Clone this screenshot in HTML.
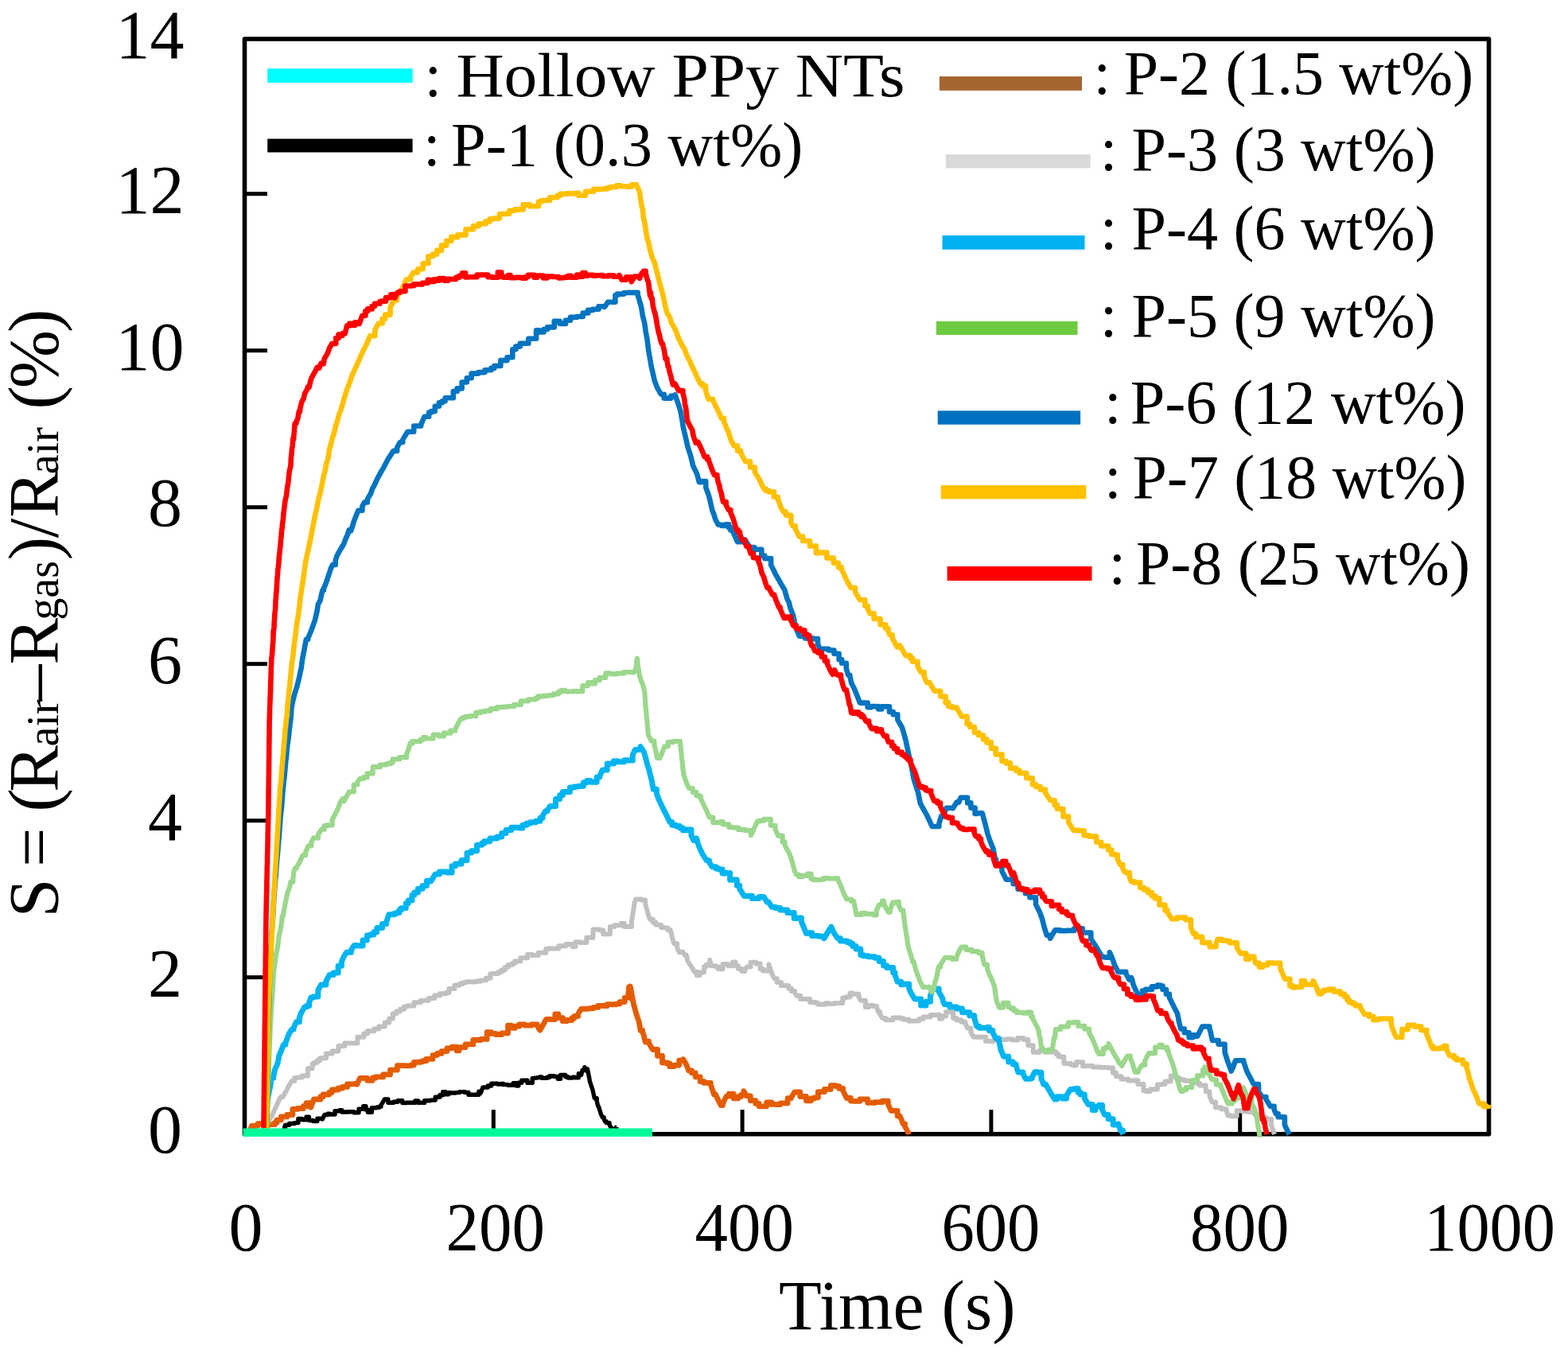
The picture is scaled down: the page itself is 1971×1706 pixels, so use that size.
<!DOCTYPE html><html><head><meta charset="utf-8"><title>Gas response</title><style>html,body{margin:0;padding:0;background:#fff;}body{width:1971px;height:1706px;overflow:hidden;}svg{display:block;filter:blur(0.55px);}text{font-family:"Liberation Serif", "Times New Roman", serif;fill:#000;}</style></head><body>
<svg width="1971" height="1706" viewBox="0 0 1971 1706">
<rect x="0" y="0" width="1971" height="1706" fill="#fff"/>
<rect x="307.5" y="49.0" width="1564.0" height="1376.7" fill="none" stroke="#000" stroke-width="5.6" stroke-linejoin="round"/>
<line x1="307.5" y1="1228.7" x2="336.0" y2="1228.7" stroke="#000" stroke-width="5"/>
<line x1="307.5" y1="1031.7" x2="336.0" y2="1031.7" stroke="#000" stroke-width="5"/>
<line x1="307.5" y1="834.7" x2="336.0" y2="834.7" stroke="#000" stroke-width="5"/>
<line x1="307.5" y1="637.7" x2="336.0" y2="637.7" stroke="#000" stroke-width="5"/>
<line x1="307.5" y1="440.7" x2="336.0" y2="440.7" stroke="#000" stroke-width="5"/>
<line x1="307.5" y1="243.7" x2="336.0" y2="243.7" stroke="#000" stroke-width="5"/>
<line x1="620.3" y1="1425.7" x2="620.3" y2="1395.2" stroke="#000" stroke-width="5"/>
<line x1="933.1" y1="1425.7" x2="933.1" y2="1395.2" stroke="#000" stroke-width="5"/>
<line x1="1245.9" y1="1425.7" x2="1245.9" y2="1395.2" stroke="#000" stroke-width="5"/>
<line x1="1558.7" y1="1425.7" x2="1558.7" y2="1395.2" stroke="#000" stroke-width="5"/>
<polyline points="355.0,1418.0 358.5,1418.0 358.5,1414.4 363.5,1414.4 363.5,1412.5 370.3,1412.5 370.3,1411.6 374.9,1411.6 374.9,1406.4 379.7,1406.4 379.7,1407.7 385.0,1407.7 385.0,1404.3 388.4,1404.3 388.4,1408.5 393.4,1408.5 393.4,1409.6 398.9,1409.6 398.9,1406.3 405.3,1406.3 405.3,1407.0 408.0,1401.5 411.9,1401.5 411.9,1400.3 414.6,1400.3 414.6,1401.0 421.0,1401.0 421.0,1396.8 427.1,1396.8 427.1,1395.7 429.7,1395.7 429.7,1398.0 437.4,1398.0 437.4,1397.8 445.0,1397.8 445.0,1398.8 451.0,1398.8 451.0,1394.2 456.7,1394.2 456.7,1390.7 459.9,1390.7 459.9,1395.0 462.4,1395.0 462.4,1398.2 467.4,1398.2 467.4,1392.7 469.9,1392.7 469.9,1392.7 473.1,1392.7 473.1,1392.3 476.5,1392.3 476.5,1391.3 478.9,1391.3 478.9,1389.7 483.5,1381.9 487.9,1381.9 487.9,1386.3 494.9,1386.3 494.9,1385.2 500.1,1385.2 500.1,1383.7 505.9,1383.7 505.9,1386.6 511.0,1386.6 511.0,1386.3 517.0,1386.3 517.0,1386.3 521.9,1386.3 521.9,1383.9 525.8,1383.9 525.8,1386.4 533.5,1386.4 533.5,1383.7 540.8,1383.7 540.8,1383.1 547.2,1383.1 547.2,1379.3 552.9,1379.3 552.9,1376.7 556.7,1376.7 556.7,1372.7 560.1,1372.7 560.1,1375.7 563.8,1375.7 563.8,1373.6 566.6,1373.6 566.6,1374.0 573.0,1374.0 573.0,1373.6 577.5,1373.6 577.5,1372.6 584.4,1372.6 584.4,1373.4 588.9,1373.4 588.9,1376.3 595.9,1376.3 595.9,1376.3 601.9,1376.3 601.9,1372.3 604.0,1372.3 604.0,1374.6 607.0,1367.0 613.3,1367.0 613.3,1365.0 617.7,1365.0 617.7,1362.2 625.4,1362.2 625.4,1363.0 629.9,1363.0 629.9,1362.5 632.7,1362.5 632.7,1363.6 638.5,1363.6 638.5,1364.2 645.1,1364.2 645.1,1361.6 649.0,1361.6 649.0,1365.0 651.8,1365.0 651.8,1361.2 655.8,1361.2 655.8,1358.2 663.0,1358.2 663.0,1361.4 669.2,1361.4 669.2,1355.6 672.1,1355.6 672.1,1355.1 675.6,1355.1 675.6,1354.6 678.4,1354.6 678.4,1354.0 681.0,1354.0 681.0,1355.4 687.7,1355.4 687.7,1354.3 691.0,1354.3 691.0,1352.7 696.4,1352.7 696.4,1353.4 701.2,1353.4 701.2,1356.2 704.6,1356.2 704.6,1351.4 710.8,1351.4 710.8,1353.8 713.9,1353.8 713.9,1355.1 719.7,1355.1 719.7,1354.2 722.7,1354.2 722.7,1354.7 727.3,1354.7 727.3,1349.8 730.6,1349.8 730.6,1351.6 732.1,1345.3 734.9,1345.3 734.9,1341.8 737.1,1346.2 738.4,1343.9 740.6,1354.7 741.6,1360.2 742.9,1364.1 744.9,1369.8 746.6,1377.8 747.5,1380.8 750.2,1380.8 750.2,1384.2 751.5,1389.9 752.8,1392.2 755.4,1400.6 757.3,1404.7 759.1,1404.7 759.1,1406.8 760.4,1409.7 762.1,1409.7 762.1,1411.6 766.0,1411.6 766.0,1413.5 768.8,1419.2 774.5,1419.2 774.5,1417.1 775.0,1417.1 775.0,1416.9" fill="none" stroke="#000000" stroke-width="5.4" stroke-linejoin="round" stroke-linecap="butt" />
<polyline points="312.0,1420.0 316.5,1420.0 316.5,1415.3 324.1,1415.3 324.1,1412.7 332.1,1412.7 332.1,1415.5 336.3,1415.5 336.3,1413.3 339.6,1413.3 339.6,1413.7 345.3,1413.7 345.3,1411.6 347.8,1411.6 347.8,1408.1 353.3,1408.1 353.3,1403.9 360.8,1403.9 360.8,1401.5 367.8,1401.5 367.8,1394.3 374.4,1394.3 374.4,1393.5 381.4,1393.5 381.4,1390.7 385.1,1390.7 385.1,1386.6 390.7,1386.6 390.7,1392.2 394.5,1382.0 402.9,1382.0 402.9,1378.7 406.1,1378.7 406.1,1376.0 413.9,1376.0 413.9,1373.3 417.4,1373.3 417.4,1370.0 425.3,1370.0 425.3,1368.0 430.7,1368.0 430.7,1366.4 436.6,1366.4 436.6,1362.9 445.6,1362.9 445.6,1362.3 448.8,1362.3 448.8,1363.3 452.4,1355.4 461.7,1355.4 461.7,1358.3 468.2,1358.3 468.2,1355.2 471.9,1355.2 471.9,1353.9 481.7,1353.9 481.7,1350.9 490.5,1350.9 490.5,1345.1 494.0,1345.1 494.0,1345.1 499.4,1345.1 499.4,1339.6 503.4,1339.6 503.4,1339.7 508.7,1339.7 508.7,1339.8 516.1,1339.8 516.1,1339.1 520.4,1339.1 520.4,1335.4 528.3,1335.4 528.3,1334.8 531.8,1334.8 531.8,1333.7 535.9,1333.7 535.9,1331.4 544.0,1331.4 544.0,1326.6 549.5,1326.6 549.5,1324.4 555.0,1324.4 555.0,1321.7 561.9,1321.7 561.9,1317.8 568.2,1317.8 568.2,1316.1 573.9,1316.1 573.9,1320.8 577.1,1320.8 577.1,1316.6 585.1,1316.6 585.1,1312.9 594.8,1312.9 594.8,1307.5 604.5,1307.5 604.5,1306.4 612.1,1306.4 612.1,1297.7 617.5,1297.7 617.5,1299.4 623.0,1299.4 623.0,1300.5 630.8,1300.5 630.8,1298.9 638.5,1298.9 638.5,1289.2 642.4,1289.2 642.4,1292.4 647.1,1292.4 647.1,1290.2 652.7,1290.2 652.7,1287.8 659.5,1287.8 659.5,1289.1 668.5,1289.1 668.5,1287.9 675.3,1287.9 675.3,1289.9 678.7,1295.2 686.6,1281.4 692.0,1281.4 692.0,1281.6 697.8,1281.6 697.8,1274.8 701.9,1274.8 701.9,1279.7 707.3,1279.7 707.3,1283.7 712.4,1283.7 712.4,1282.5 718.9,1282.5 718.9,1280.0 721.7,1280.0 721.7,1277.6 726.7,1277.6 726.7,1274.5 730.5,1268.4 738.2,1268.4 738.2,1268.1 741.4,1268.1 741.4,1267.6 746.3,1267.6 746.3,1266.4 751.9,1266.4 751.9,1264.4 759.6,1264.4 759.6,1264.7 763.2,1264.7 763.2,1262.6 769.7,1262.6 769.7,1262.9 774.1,1262.9 774.1,1262.1 779.0,1262.1 779.0,1259.6 785.2,1259.6 785.2,1254.4 789.8,1254.4 789.8,1250.1 790.6,1240.9 792.1,1240.9 792.1,1239.9 792.9,1243.3 794.6,1252.2 795.7,1259.0 796.8,1263.3 799.5,1273.6 802.7,1283.1 803.6,1286.5 805.1,1295.4 807.6,1295.4 807.6,1297.4 809.2,1301.6 811.2,1310.0 813.2,1310.0 813.2,1309.2 815.5,1309.2 815.5,1311.1 820.4,1319.5 826.5,1319.5 826.5,1327.4 832.5,1327.4 832.5,1336.0 838.5,1336.0 838.5,1337.0 841.8,1337.0 841.8,1340.7 847.3,1340.7 847.3,1339.1 853.7,1339.1 853.7,1333.1 858.9,1333.1 858.9,1331.7 863.1,1339.1 865.6,1345.9 869.5,1345.9 869.5,1348.8 874.2,1348.8 874.2,1353.8 880.2,1353.8 880.2,1359.7 885.0,1359.7 885.0,1361.4 893.3,1361.4 893.3,1363.9 897.6,1376.0 899.6,1376.0 899.6,1376.0 901.9,1381.3 906.2,1389.6 908.5,1389.6 908.5,1387.4 913.0,1378.2 916.3,1378.2 916.3,1375.1 922.1,1375.1 922.1,1380.8 927.9,1380.8 927.9,1378.7 931.3,1378.7 931.3,1376.6 934.9,1376.6 934.9,1371.6 938.2,1377.8 943.3,1377.8 943.3,1383.7 949.9,1383.7 949.9,1387.4 954.1,1387.4 954.1,1390.8 963.6,1390.8 963.6,1385.9 969.9,1385.9 969.9,1388.4 974.8,1388.4 974.8,1388.6 981.1,1388.6 981.1,1386.9 990.1,1386.9 990.1,1380.7 994.3,1380.7 994.3,1380.3 998.7,1373.0 1005.8,1373.0 1005.8,1378.5 1013.4,1378.5 1013.4,1383.8 1019.5,1383.8 1019.5,1380.9 1023.6,1380.9 1023.6,1379.8 1028.4,1379.8 1028.4,1372.7 1036.3,1372.7 1036.3,1369.4 1044.2,1369.4 1044.2,1364.6 1050.3,1364.6 1050.3,1365.6 1054.9,1365.6 1054.9,1368.4 1059.7,1368.4 1059.7,1371.5 1064.2,1380.5 1069.4,1380.5 1069.4,1384.1 1072.7,1384.1 1072.7,1384.3 1081.0,1384.3 1081.0,1381.9 1090.7,1381.9 1090.7,1386.4 1099.7,1386.4 1099.7,1385.6 1109.3,1385.6 1109.3,1384.2 1116.3,1384.2 1116.3,1388.3 1120.2,1396.4 1128.1,1396.4 1128.1,1402.9 1130.8,1402.9 1130.8,1403.0 1132.5,1406.1 1135.1,1412.9 1137.5,1412.9 1137.5,1416.0 1142.0,1424.7 1142.2,1426.2" fill="none" stroke="#E45C00" stroke-width="6.8" stroke-linejoin="round" stroke-linecap="butt" />
<polyline points="334.0,1420.0 335.6,1414.5 338.6,1407.6 342.2,1401.6 346.4,1392.9 348.6,1387.8 351.0,1382.2 353.2,1378.9 355.6,1378.9 355.6,1378.7 360.4,1370.5 362.8,1365.6 366.8,1359.0 370.2,1359.0 370.2,1354.9 374.5,1354.9 374.5,1354.4 379.5,1354.4 379.5,1352.6 386.9,1352.6 386.9,1343.2 392.6,1343.2 392.6,1337.4 395.1,1337.4 395.1,1335.7 399.0,1335.7 399.0,1333.0 402.2,1333.0 402.2,1330.2 409.9,1330.2 409.9,1324.5 417.7,1324.5 417.7,1321.6 425.4,1321.6 425.4,1315.0 433.2,1315.0 433.2,1311.5 440.5,1311.5 440.5,1311.6 449.4,1311.6 449.4,1303.7 457.4,1303.7 457.4,1299.5 461.9,1299.5 461.9,1296.3 470.3,1296.3 470.3,1293.5 476.3,1293.5 476.3,1290.6 483.8,1290.6 483.8,1285.4 489.2,1285.4 489.2,1280.6 493.9,1280.6 493.9,1274.3 498.3,1274.3 498.3,1271.6 503.0,1271.6 503.0,1268.7 507.9,1268.7 507.9,1265.4 511.8,1265.4 511.8,1264.6 520.5,1264.6 520.5,1260.2 529.0,1260.2 529.0,1257.8 538.7,1257.8 538.7,1255.0 546.3,1255.0 546.3,1251.6 553.0,1251.6 553.0,1249.2 560.8,1249.2 560.8,1248.1 564.4,1248.1 564.4,1242.9 571.4,1242.9 571.4,1238.8 577.3,1238.8 577.3,1237.0 581.6,1237.0 581.6,1235.2 586.2,1235.2 586.2,1234.3 593.0,1234.3 593.0,1234.6 597.9,1234.6 597.9,1233.8 604.2,1233.8 604.2,1232.5 611.0,1232.5 611.0,1229.8 616.4,1229.8 616.4,1224.2 620.1,1224.2 620.1,1224.0 626.2,1224.0 626.2,1222.0 630.5,1222.0 630.5,1219.4 634.7,1219.4 634.7,1215.9 638.7,1215.9 638.7,1213.1 643.8,1213.1 643.8,1211.2 647.1,1211.2 647.1,1208.5 654.2,1208.5 654.2,1204.3 663.2,1204.3 663.2,1200.1 668.8,1200.1 668.8,1201.0 676.8,1201.0 676.8,1197.8 686.2,1197.8 686.2,1192.9 689.6,1192.9 689.6,1192.5 693.7,1192.5 693.7,1192.4 702.4,1192.4 702.4,1189.3 711.5,1189.3 711.5,1186.9 719.2,1186.9 719.2,1189.9 723.5,1189.9 723.5,1184.2 729.3,1184.2 729.3,1185.1 737.3,1185.1 737.3,1178.8 745.5,1178.8 745.5,1168.6 753.7,1168.6 753.7,1169.5 758.1,1169.5 758.1,1174.3 766.9,1174.3 766.9,1165.1 772.6,1165.1 772.6,1163.2 780.7,1163.2 780.7,1161.0 784.8,1161.0 784.8,1164.9 793.9,1164.9 793.9,1159.1 795.2,1150.8 796.6,1142.8 797.3,1136.0 799.1,1130.4 806.4,1130.4 806.4,1131.6 811.2,1131.6 811.2,1136.2 812.9,1142.5 815.3,1151.2 816.9,1155.8 820.8,1155.8 820.8,1159.8 824.4,1159.8 824.4,1162.8 831.2,1162.8 831.2,1166.1 834.9,1166.1 834.9,1166.5 839.4,1166.5 839.4,1169.2 842.8,1169.2 842.8,1169.0 845.1,1178.9 847.1,1186.2 851.2,1186.2 851.2,1191.5 853.6,1197.2 858.1,1197.2 858.1,1196.5 861.1,1201.1 862.9,1201.1 862.9,1200.7 864.4,1208.4 870.4,1217.4 872.8,1221.7 875.9,1221.7 875.9,1226.2 879.5,1226.2 879.5,1222.6 884.9,1222.6 884.9,1215.4 887.5,1215.4 887.5,1213.0 892.2,1213.0 892.2,1206.7 893.7,1214.2 899.8,1214.2 899.8,1215.6 903.0,1215.6 903.0,1218.2 908.6,1218.2 908.6,1211.9 915.3,1211.9 915.3,1214.2 921.1,1214.2 921.1,1209.4 924.5,1209.4 924.5,1214.1 927.8,1214.1 927.8,1218.0 932.6,1218.0 932.6,1221.0 936.4,1221.0 936.4,1219.7 938.8,1215.5 943.6,1215.5 943.6,1209.8 950.1,1209.8 950.1,1211.5 955.6,1211.5 955.6,1217.9 959.1,1217.9 959.1,1220.5 966.4,1220.5 966.4,1212.5 971.0,1225.8 973.3,1230.2 976.7,1230.2 976.7,1234.9 981.9,1234.9 981.9,1239.0 986.4,1239.0 986.4,1239.2 991.3,1239.2 991.3,1242.7 995.0,1242.7 995.0,1246.1 999.0,1246.1 999.0,1247.8 1001.5,1251.8 1006.1,1251.8 1006.1,1255.9 1009.8,1255.9 1009.8,1255.9 1018.1,1255.9 1018.1,1260.0 1025.3,1260.0 1025.3,1261.0 1028.4,1261.0 1028.4,1262.7 1037.2,1262.7 1037.2,1261.3 1041.7,1261.3 1041.7,1262.0 1048.4,1262.0 1048.4,1261.3 1054.8,1261.3 1054.8,1260.9 1059.3,1260.9 1059.3,1254.6 1063.5,1254.6 1063.5,1253.5 1068.6,1253.5 1068.6,1248.5 1071.9,1248.5 1071.9,1249.8 1079.4,1249.8 1079.4,1253.5 1081.9,1257.7 1087.8,1257.7 1087.8,1265.9 1092.5,1265.9 1092.5,1264.0 1097.9,1264.0 1097.9,1265.1 1102.1,1265.1 1102.1,1266.7 1103.9,1272.1 1106.1,1272.1 1106.1,1275.0 1109.2,1279.9 1113.2,1279.9 1113.2,1282.2 1122.4,1282.2 1122.4,1279.6 1132.4,1279.6 1132.4,1280.5 1135.8,1280.5 1135.8,1281.8 1142.6,1281.8 1142.6,1283.7 1146.6,1283.7 1146.6,1283.4 1155.2,1283.4 1155.2,1281.0 1160.5,1281.0 1160.5,1278.4 1169.7,1278.4 1169.7,1276.1 1176.8,1276.1 1176.8,1275.7 1180.9,1275.7 1180.9,1280.8 1184.1,1280.8 1184.1,1277.4 1189.1,1277.4 1189.1,1272.3 1198.2,1272.3 1198.2,1280.1 1202.2,1280.1 1202.2,1282.2 1208.4,1282.2 1208.4,1284.7 1213.3,1284.7 1213.3,1286.2 1216.1,1292.4 1220.5,1292.4 1220.5,1298.0 1223.8,1303.7 1231.6,1303.7 1231.6,1303.8 1239.1,1303.8 1239.1,1309.1 1248.9,1309.1 1248.9,1307.7 1255.8,1307.7 1255.8,1307.0 1265.6,1307.0 1265.6,1306.3 1272.0,1306.3 1272.0,1307.5 1279.3,1307.5 1279.3,1305.0 1286.4,1305.0 1286.4,1306.9 1292.4,1306.9 1292.4,1314.3 1298.7,1314.3 1298.7,1322.7 1302.4,1322.7 1302.4,1322.9 1306.5,1322.9 1306.5,1320.7 1313.6,1320.7 1313.6,1322.7 1322.6,1322.7 1322.6,1322.5 1327.6,1322.5 1327.6,1325.3 1330.6,1325.3 1330.6,1328.6 1337.3,1328.6 1337.3,1337.1 1342.3,1337.1 1342.3,1337.0 1345.8,1337.0 1345.8,1338.6 1349.4,1338.6 1349.4,1339.6 1352.8,1339.6 1352.8,1335.3 1361.1,1335.3 1361.1,1340.4 1365.1,1340.4 1365.1,1339.9 1373.4,1339.9 1373.4,1341.4 1382.9,1341.4 1382.9,1341.9 1393.2,1341.9 1393.2,1342.6 1399.0,1342.6 1399.0,1348.8 1403.0,1348.8 1403.0,1353.3 1409.5,1353.3 1409.5,1356.8 1418.4,1356.8 1418.4,1358.6 1426.0,1358.6 1426.0,1358.3 1430.3,1358.3 1430.3,1362.9 1437.4,1362.9 1437.4,1370.9 1440.7,1370.9 1440.7,1372.2 1445.6,1372.2 1445.6,1369.6 1454.9,1369.6 1454.9,1363.5 1460.5,1363.5 1460.5,1363.0 1464.5,1363.0 1464.5,1359.5 1471.7,1359.5 1471.7,1352.5 1477.8,1352.5 1477.8,1354.4 1480.9,1354.4 1480.9,1356.2 1484.2,1356.2 1484.2,1357.6 1489.2,1357.6 1489.2,1358.8 1494.7,1358.8 1494.7,1359.1 1503.9,1359.1 1503.9,1362.1 1508.0,1362.1 1508.0,1364.5 1515.6,1364.5 1515.6,1372.3 1520.4,1372.3 1520.4,1377.9 1523.4,1385.4 1528.0,1385.4 1528.0,1392.2 1535.1,1392.2 1535.1,1394.3 1541.4,1394.3 1541.4,1395.6 1543.6,1402.6 1547.2,1402.6 1547.2,1403.3 1554.7,1403.3 1554.7,1396.2 1560.9,1396.2 1560.9,1397.1 1565.3,1397.1 1565.3,1397.5 1571.0,1397.5 1571.0,1398.0 1577.1,1398.0 1577.1,1401.0 1581.2,1401.0 1581.2,1402.7 1588.0,1402.7 1588.0,1405.1 1591.3,1405.1 1591.3,1406.7 1598.0,1406.7 1598.0,1413.5 1599.2,1418.6 1600.3,1420.9 1601.9,1426.2" fill="none" stroke="#C0C0C0" stroke-width="6.0" stroke-linejoin="round" stroke-linecap="butt" />
<polyline points="333.0,1420.0 333.7,1415.3 334.5,1408.4 335.0,1401.4 335.7,1391.7 336.1,1383.5 336.7,1380.6 338.3,1372.1 339.9,1365.7 341.0,1355.3 343.7,1355.3 343.7,1352.9 345.7,1344.1 348.4,1338.2 349.6,1334.2 350.9,1327.0 353.7,1320.5 356.4,1313.3 358.8,1313.3 358.8,1311.4 363.2,1299.8 366.9,1293.9 369.0,1293.9 369.0,1292.3 372.4,1284.8 376.3,1284.8 376.3,1279.5 378.4,1273.7 382.8,1265.9 385.2,1265.9 385.2,1264.6 388.6,1264.6 388.6,1260.5 390.9,1253.9 393.7,1253.9 393.7,1253.0 399.8,1253.0 399.8,1245.0 403.5,1238.1 409.9,1238.1 409.9,1233.6 414.1,1225.4 419.1,1225.4 419.1,1223.0 425.1,1223.0 425.1,1214.2 429.4,1214.2 429.4,1208.8 431.6,1203.8 435.5,1197.3 441.5,1197.3 441.5,1194.1 445.2,1188.4 448.4,1188.4 448.4,1189.1 456.0,1189.1 456.0,1181.9 461.3,1181.9 461.3,1176.0 464.9,1176.0 464.9,1174.9 469.9,1174.9 469.9,1171.7 473.7,1171.7 473.7,1166.5 480.5,1166.5 480.5,1161.4 485.7,1161.4 485.7,1159.3 488.7,1149.7 495.4,1149.7 495.4,1148.5 498.1,1148.5 498.1,1147.4 501.8,1147.4 501.8,1144.2 504.2,1144.2 504.2,1141.8 510.2,1141.8 510.2,1135.8 513.1,1135.8 513.1,1131.9 518.0,1131.9 518.0,1125.2 520.7,1125.2 520.7,1122.1 525.4,1122.1 525.4,1117.2 531.2,1117.2 531.2,1113.5 536.4,1113.5 536.4,1107.2 541.7,1107.2 541.7,1108.0 547.2,1098.9 552.4,1098.9 552.4,1096.1 558.6,1096.1 558.6,1095.9 562.1,1095.9 562.1,1096.9 568.0,1096.9 568.0,1088.8 572.4,1088.8 572.4,1086.0 580.0,1086.0 580.0,1081.6 587.0,1081.6 587.0,1072.2 589.6,1072.2 589.6,1071.9 592.6,1071.9 592.6,1069.8 599.5,1069.8 599.5,1062.3 605.7,1062.3 605.7,1060.2 608.5,1060.2 608.5,1057.8 615.8,1057.8 615.8,1053.9 625.0,1053.9 625.0,1051.9 630.7,1051.9 630.7,1047.6 636.0,1047.6 636.0,1043.5 642.8,1043.5 642.8,1040.3 652.1,1040.3 652.1,1041.1 656.9,1041.1 656.9,1037.3 662.0,1037.3 662.0,1035.2 666.3,1035.2 666.3,1033.7 673.5,1033.7 673.5,1032.3 679.0,1032.3 679.0,1028.2 682.1,1028.2 682.1,1025.3 685.9,1019.5 688.1,1019.5 688.1,1018.7 691.5,1013.5 698.5,1013.5 698.5,1004.6 703.6,1004.6 703.6,999.7 707.3,999.7 707.3,995.6 716.4,995.6 716.4,990.1 721.7,990.1 721.7,988.9 726.3,988.9 726.3,988.6 729.4,988.6 729.4,988.2 733.4,988.2 733.4,983.8 737.8,983.8 737.8,981.5 742.3,981.5 742.3,983.2 750.1,983.2 750.1,976.9 753.7,976.9 753.7,976.1 757.3,967.9 763.3,967.9 763.3,959.9 771.5,959.9 771.5,956.8 776.3,956.8 776.3,957.7 784.6,957.7 784.6,955.8 790.1,955.8 790.1,955.9 795.3,955.9 795.3,949.0 798.6,942.4 805.1,942.4 805.1,938.5 809.4,945.4 811.4,952.0 814.0,962.5 815.5,966.5 817.0,972.6 819.4,982.2 821.2,992.2 825.4,992.2 825.4,997.7 828.1,1005.0 832.2,1013.9 835.5,1020.4 837.6,1024.5 841.9,1033.5 844.8,1033.5 844.8,1037.3 849.6,1037.3 849.6,1038.6 854.5,1038.6 854.5,1041.0 858.4,1041.0 858.4,1043.8 862.9,1043.8 862.9,1043.1 869.0,1043.1 869.0,1050.7 872.0,1056.6 875.5,1056.6 875.5,1053.7 878.0,1062.6 880.5,1068.3 882.6,1073.0 888.1,1081.7 891.4,1081.7 891.4,1083.7 895.2,1089.8 900.1,1089.8 900.1,1091.9 903.8,1091.9 903.8,1092.9 908.1,1092.9 908.1,1098.1 911.7,1098.1 911.7,1097.5 917.6,1097.5 917.6,1106.3 920.6,1106.3 920.6,1105.9 926.3,1105.9 926.3,1113.3 929.7,1113.3 929.7,1117.4 935.3,1126.4 940.9,1126.4 940.9,1126.3 945.3,1126.3 945.3,1129.6 954.1,1129.6 954.1,1127.5 960.1,1127.5 960.1,1127.4 964.2,1134.2 966.3,1134.2 966.3,1134.0 970.0,1140.2 974.7,1140.2 974.7,1141.5 980.8,1141.5 980.8,1144.1 989.8,1144.1 989.8,1147.6 998.2,1147.6 998.2,1154.6 1001.5,1154.6 1001.5,1154.0 1007.4,1154.0 1007.4,1158.5 1013.4,1173.5 1017.6,1173.5 1017.6,1172.8 1020.6,1172.8 1020.6,1176.6 1029.8,1176.6 1029.8,1177.2 1035.9,1177.2 1035.9,1179.7 1041.0,1171.1 1044.7,1165.1 1048.3,1172.8 1052.8,1179.6 1056.3,1179.6 1056.3,1182.9 1064.8,1182.9 1064.8,1184.6 1068.8,1184.6 1068.8,1186.3 1071.8,1186.3 1071.8,1189.5 1076.0,1189.5 1076.0,1193.1 1081.8,1193.1 1081.8,1200.5 1085.0,1200.5 1085.0,1201.7 1091.2,1201.7 1091.2,1202.7 1099.8,1202.7 1099.8,1204.3 1105.1,1204.3 1105.1,1208.6 1110.6,1208.6 1110.6,1213.9 1114.8,1213.9 1114.8,1216.6 1122.7,1216.6 1122.7,1222.7 1125.0,1222.7 1125.0,1225.7 1128.2,1234.2 1132.7,1234.2 1132.7,1237.8 1135.9,1237.8 1135.9,1236.9 1142.7,1236.9 1142.7,1242.9 1144.9,1247.7 1149.8,1255.9 1157.6,1255.9 1157.6,1264.1 1163.9,1264.1 1163.9,1259.3 1169.4,1259.3 1169.4,1252.0 1172.5,1243.6 1176.1,1243.6 1176.1,1242.9 1180.2,1242.9 1180.2,1246.9 1184.6,1254.7 1185.8,1259.8 1187.3,1262.7 1193.9,1262.7 1193.9,1266.1 1202.8,1266.1 1202.8,1268.0 1209.5,1268.0 1209.5,1272.7 1218.8,1272.7 1218.8,1276.8 1224.7,1276.8 1224.7,1279.2 1227.6,1290.2 1231.1,1290.2 1231.1,1292.3 1240.7,1292.3 1240.7,1291.6 1243.4,1291.6 1243.4,1295.4 1247.9,1295.4 1247.9,1298.1 1251.8,1305.4 1255.6,1305.4 1255.6,1307.8 1258.2,1320.2 1261.5,1328.2 1267.7,1328.2 1267.7,1334.9 1273.3,1334.9 1273.3,1338.0 1277.0,1338.0 1277.0,1339.3 1279.8,1348.0 1285.8,1348.0 1285.8,1349.7 1289.3,1356.3 1292.5,1356.3 1292.5,1356.3 1295.7,1356.3 1295.7,1355.5 1297.3,1355.5 1297.3,1354.7 1299.2,1350.4 1301.1,1347.5 1303.7,1347.5 1303.7,1348.3 1308.9,1348.3 1308.9,1355.9 1311.8,1363.2 1314.2,1363.2 1314.2,1362.8 1320.3,1373.2 1325.6,1382.0 1328.5,1382.0 1328.5,1378.8 1335.2,1378.8 1335.2,1381.0 1340.5,1381.0 1340.5,1377.3 1345.6,1369.5 1351.2,1369.5 1351.2,1368.5 1355.2,1368.5 1355.2,1373.2 1358.2,1373.2 1358.2,1376.0 1363.3,1376.0 1363.3,1380.9 1367.9,1388.5 1373.2,1388.5 1373.2,1395.6 1376.8,1395.6 1376.8,1391.2 1381.4,1391.2 1381.4,1389.3 1385.5,1389.3 1385.5,1394.9 1388.4,1401.4 1393.2,1401.4 1393.2,1406.8 1399.2,1406.8 1399.2,1414.1 1405.9,1414.1 1405.9,1412.7 1408.4,1421.1 1411.5,1421.1 1411.5,1425.3 1411.8,1426.0" fill="none" stroke="#00B4F0" stroke-width="7.0" stroke-linejoin="round" stroke-linecap="butt" />
<polyline points="334.0,1420.0 334.6,1411.2 334.8,1408.1 335.3,1399.2 335.6,1393.0 336.2,1385.1 336.4,1380.0 336.7,1370.3 337.0,1363.0 337.4,1354.7 337.8,1343.7 338.0,1338.3 338.2,1333.7 338.5,1322.5 338.7,1317.6 338.9,1313.9 339.1,1307.5 339.5,1300.1 339.8,1290.5 340.4,1282.2 340.7,1277.6 341.3,1264.9 341.8,1258.3 342.1,1254.2 342.5,1249.0 342.9,1243.8 343.2,1238.6 343.6,1230.0 344.0,1225.0 344.5,1219.3 345.9,1209.3 347.1,1198.8 348.0,1195.8 349.4,1187.6 351.0,1173.7 352.1,1171.6 354.1,1159.0 354.7,1151.9 355.6,1151.9 355.6,1151.8 356.4,1148.2 358.4,1136.7 360.0,1128.8 362.0,1120.5 363.5,1117.2 365.5,1108.7 368.3,1108.7 368.3,1105.0 369.4,1095.4 370.8,1091.8 372.6,1091.8 372.6,1090.7 375.9,1085.3 380.6,1075.1 384.2,1075.1 384.2,1070.9 387.4,1063.5 391.4,1063.5 391.4,1058.6 394.0,1053.4 400.1,1053.4 400.1,1048.8 404.1,1042.7 407.6,1042.7 407.6,1038.1 411.4,1038.1 411.4,1037.3 417.7,1037.3 417.7,1030.3 420.3,1025.6 424.9,1016.5 427.6,1009.2 430.7,1004.0 432.5,1007.1 438.7,995.5 444.7,995.5 444.7,986.5 449.3,986.5 449.3,983.6 452.0,979.0 457.1,979.0 457.1,977.2 461.6,977.2 461.6,972.4 468.6,972.4 468.6,964.2 477.8,964.2 477.8,961.5 485.8,961.5 485.8,960.2 490.6,960.2 490.6,958.7 493.7,958.7 493.7,954.4 502.3,954.4 502.3,952.2 511.1,952.2 511.1,947.7 512.8,944.1 515.5,934.7 518.3,934.7 518.3,932.2 528.4,932.2 528.4,929.8 531.8,929.8 531.8,927.0 535.4,927.0 535.4,928.5 544.6,928.5 544.6,923.6 551.6,923.6 551.6,925.5 557.9,925.5 557.9,921.6 566.3,921.6 566.3,918.7 572.0,918.7 572.0,917.2 576.7,907.8 579.7,903.3 582.2,903.3 582.2,902.0 585.3,902.0 585.3,900.9 590.7,900.9 590.7,900.2 598.2,900.2 598.2,895.9 603.9,895.9 603.9,894.7 609.4,894.7 609.4,893.6 616.9,893.6 616.9,891.1 624.9,891.1 624.9,889.0 632.2,889.0 632.2,888.7 637.4,888.7 637.4,888.0 646.1,888.0 646.1,885.9 654.7,885.9 654.7,881.4 663.9,881.4 663.9,879.3 673.3,879.3 673.3,877.6 676.6,877.6 676.6,875.3 684.4,875.3 684.4,874.6 690.0,874.6 690.0,874.0 695.9,874.0 695.9,872.3 701.9,872.3 701.9,869.8 705.4,869.8 705.4,867.9 710.4,867.9 710.4,869.5 720.6,869.5 720.6,868.9 725.4,868.9 725.4,869.2 732.3,869.2 732.3,862.2 739.0,862.2 739.0,858.2 743.8,858.2 743.8,859.4 748.0,859.4 748.0,855.2 753.8,855.2 753.8,851.9 761.2,851.9 761.2,846.4 766.7,846.4 766.7,847.2 770.3,847.2 770.3,847.3 774.8,847.3 774.8,846.6 784.1,846.6 784.1,845.0 792.6,845.0 792.6,844.8 796.6,844.8 796.6,845.5 799.4,840.4 800.3,830.0 801.0,827.7 802.2,840.0 802.7,841.1 803.2,845.4 804.8,852.8 807.3,858.7 809.3,865.4 810.5,871.5 811.4,888.1 811.9,890.6 812.6,898.9 812.9,902.5 813.7,909.8 814.1,913.5 814.8,923.6 818.8,931.5 822.4,931.5 822.4,936.3 824.2,943.4 825.9,952.9 829.5,952.9 829.5,953.2 832.6,945.5 835.3,938.3 839.7,938.3 839.7,933.1 845.9,933.1 845.9,932.0 849.8,932.0 849.8,931.9 854.9,931.9 854.9,932.1 855.6,940.3 856.1,943.5 856.9,952.3 857.9,960.1 858.5,966.9 859.5,974.0 863.2,985.2 866.0,991.0 870.7,991.0 870.7,995.9 875.3,995.9 875.3,1000.2 878.6,1000.2 878.6,1001.0 880.9,1001.0 880.9,1004.0 885.6,1014.3 887.3,1017.2 891.7,1027.6 896.3,1027.6 896.3,1034.1 904.9,1034.1 904.9,1033.2 908.7,1033.2 908.7,1036.3 916.3,1036.3 916.3,1040.0 920.9,1040.0 920.9,1040.5 928.3,1040.5 928.3,1042.9 936.5,1042.9 936.5,1044.2 944.0,1044.2 944.0,1050.2 947.5,1042.5 952.2,1032.3 956.0,1032.3 956.0,1031.7 960.3,1031.7 960.3,1029.9 968.7,1029.9 968.7,1037.5 970.8,1037.5 970.8,1037.8 974.6,1037.8 974.6,1043.1 978.3,1050.8 983.6,1050.8 983.6,1058.4 986.5,1058.4 986.5,1062.6 990.0,1069.2 992.4,1073.6 994.6,1079.6 996.7,1086.8 998.8,1095.2 1001.2,1099.5 1004.0,1099.5 1004.0,1102.2 1008.4,1102.2 1008.4,1100.9 1014.9,1100.9 1014.9,1098.7 1019.5,1098.7 1019.5,1104.7 1022.3,1104.7 1022.3,1106.1 1032.2,1106.1 1032.2,1105.7 1035.5,1105.7 1035.5,1104.2 1041.1,1104.2 1041.1,1104.5 1050.6,1104.5 1050.6,1104.2 1053.1,1104.2 1053.1,1105.2 1056.4,1112.4 1060.7,1123.5 1064.3,1130.5 1070.1,1130.5 1070.1,1132.9 1072.9,1132.9 1072.9,1132.6 1074.7,1139.9 1076.5,1150.0 1082.7,1150.0 1082.7,1148.2 1088.7,1148.2 1088.7,1149.2 1097.7,1149.2 1097.7,1150.3 1101.7,1150.3 1101.7,1144.6 1105.2,1137.4 1109.1,1137.4 1109.1,1132.6 1110.7,1132.6 1110.7,1134.2 1114.2,1142.6 1116.4,1146.6 1118.8,1146.6 1118.8,1144.6 1122.3,1134.6 1125.8,1134.6 1125.8,1134.0 1129.9,1134.0 1129.9,1138.5 1132.7,1144.4 1135.3,1144.4 1135.3,1146.3 1136.5,1154.7 1137.6,1164.5 1138.7,1170.5 1139.9,1178.2 1141.1,1187.2 1142.0,1191.5 1144.9,1200.5 1147.2,1209.1 1148.7,1209.1 1148.7,1210.0 1151.8,1221.3 1154.8,1228.9 1156.1,1233.1 1160.3,1241.1 1168.3,1241.1 1168.3,1240.6 1171.1,1247.4 1173.7,1243.1 1175.9,1232.4 1176.9,1230.8 1178.7,1221.2 1179.9,1215.5 1182.3,1215.5 1182.3,1212.6 1187.8,1204.1 1196.6,1204.1 1196.6,1205.7 1202.2,1205.7 1202.2,1203.8 1205.7,1195.5 1208.4,1190.7 1214.4,1190.7 1214.4,1194.1 1221.7,1194.1 1221.7,1196.1 1230.4,1196.1 1230.4,1198.2 1234.6,1198.2 1234.6,1201.5 1237.5,1212.9 1240.9,1212.9 1240.9,1216.9 1243.2,1224.3 1246.6,1231.0 1250.1,1240.4 1251.5,1251.1 1252.4,1256.8 1253.3,1259.9 1256.2,1266.7 1260.9,1266.7 1260.9,1260.8 1267.4,1260.8 1267.4,1266.0 1270.7,1266.0 1270.7,1267.7 1274.1,1267.7 1274.1,1270.5 1278.1,1270.5 1278.1,1272.9 1286.0,1272.9 1286.0,1273.7 1290.8,1273.7 1290.8,1272.5 1296.0,1272.5 1296.0,1278.0 1298.2,1278.0 1298.2,1280.6 1302.9,1289.7 1305.4,1294.9 1306.6,1302.6 1307.7,1305.4 1308.8,1315.3 1310.3,1317.5 1312.4,1321.6 1317.2,1321.6 1317.2,1319.8 1323.3,1319.8 1323.3,1316.1 1325.1,1304.0 1325.9,1304.0 1325.9,1305.0 1327.1,1293.8 1333.4,1293.8 1333.4,1290.6 1342.9,1290.6 1342.9,1285.7 1349.6,1285.7 1349.6,1285.0 1355.2,1285.0 1355.2,1289.8 1363.2,1289.8 1363.2,1293.7 1369.2,1293.7 1369.2,1298.8 1372.7,1305.1 1376.0,1312.9 1379.8,1322.8 1381.3,1322.8 1381.3,1325.0 1386.8,1325.0 1386.8,1318.4 1389.9,1318.4 1389.9,1316.7 1393.5,1316.7 1393.5,1311.9 1396.6,1318.0 1400.1,1324.6 1403.8,1330.5 1407.5,1337.5 1410.2,1337.5 1410.2,1339.9 1413.1,1334.6 1417.1,1327.6 1420.9,1327.6 1420.9,1329.8 1422.8,1334.9 1423.8,1338.0 1426.8,1347.8 1430.6,1347.8 1430.6,1346.8 1435.2,1339.0 1439.1,1339.0 1439.1,1334.0 1442.3,1327.4 1444.2,1324.1 1452.1,1324.1 1452.1,1316.5 1457.4,1316.5 1457.4,1313.8 1460.7,1313.8 1460.7,1316.6 1466.9,1316.6 1466.9,1320.6 1468.7,1320.6 1468.7,1323.1 1470.6,1328.4 1473.0,1334.7 1475.8,1343.1 1477.5,1350.5 1478.8,1354.3 1480.5,1359.6 1483.2,1368.7 1484.3,1371.8 1487.1,1371.8 1487.1,1370.0 1491.1,1370.0 1491.1,1367.0 1498.3,1367.0 1498.3,1358.0 1505.0,1358.0 1505.0,1352.4 1512.2,1352.4 1512.2,1344.5 1514.7,1344.5 1514.7,1341.3 1518.2,1349.7 1520.2,1349.7 1520.2,1351.0 1523.8,1357.4 1528.9,1357.4 1528.9,1363.6 1534.3,1363.6 1534.3,1364.6 1538.3,1375.2 1541.1,1381.8 1543.8,1387.5 1548.6,1387.5 1548.6,1384.1 1552.6,1384.1 1552.6,1380.5 1557.3,1380.5 1557.3,1373.8 1562.9,1373.8 1562.9,1367.3 1568.5,1380.4 1573.3,1380.4 1573.3,1387.2 1576.9,1394.3 1579.2,1402.4 1580.3,1407.0 1580.9,1413.8 1582.4,1420.8 1583.2,1427.2 1583.2,1426.2" fill="none" stroke="#9BD78C" stroke-width="6.2" stroke-linejoin="round" stroke-linecap="butt" />
<polyline points="335.5,1420.0 335.6,1413.1 335.7,1405.1 335.8,1398.9 335.9,1387.6 336.0,1379.3 336.1,1372.3 336.2,1364.6 336.3,1354.5 336.4,1350.2 336.4,1345.9 336.5,1335.4 336.6,1333.6 336.7,1317.7 336.8,1312.7 337.0,1303.3 337.3,1292.3 337.5,1286.7 337.8,1273.3 338.2,1260.5 338.5,1249.5 338.6,1245.6 338.8,1240.0 339.1,1223.7 339.3,1223.7 339.3,1223.8 339.5,1215.2 339.7,1209.7 339.9,1202.9 340.5,1190.8 340.9,1184.7 341.4,1176.5 342.0,1166.2 342.8,1155.9 343.2,1149.8 343.5,1145.4 344.3,1130.2 345.0,1120.3 345.9,1109.2 346.7,1100.8 347.2,1093.9 347.6,1087.4 348.2,1080.3 348.8,1074.8 349.2,1069.8 350.1,1059.2 351.0,1049.0 351.3,1045.0 352.3,1031.1 353.0,1023.0 354.1,1014.0 354.8,1003.5 355.8,991.6 356.6,984.3 357.5,976.3 358.4,966.6 358.8,962.8 359.3,956.2 359.9,953.0 360.6,943.2 361.4,936.2 362.5,928.8 363.6,918.9 364.6,910.0 365.4,904.4 366.4,890.6 367.9,882.3 370.6,871.2 373.1,863.8 376.1,851.9 377.6,843.8 378.4,841.5 379.2,835.8 380.1,829.1 380.8,825.3 382.5,816.3 384.9,803.7 387.2,803.7 387.2,802.3 391.8,791.2 395.8,780.0 398.6,767.9 399.9,759.6 402.4,755.2 404.0,747.9 405.4,742.0 406.9,742.0 406.9,740.0 410.0,732.4 414.4,719.2 416.2,713.8 418.3,709.9 421.7,709.9 421.7,704.8 423.6,698.6 427.3,691.7 431.8,684.4 435.2,675.7 437.0,672.0 438.7,666.3 441.1,666.3 441.1,667.4 445.2,654.5 450.3,641.8 455.4,641.8 455.4,636.5 458.3,631.4 461.9,631.4 461.9,627.5 465.9,620.8 468.2,614.2 470.4,610.4 474.0,602.3 479.3,592.7 482.1,588.1 487.6,577.5 494.5,566.9 499.1,566.9 499.1,562.8 502.8,556.0 506.2,556.0 506.2,552.9 512.4,542.7 520.2,542.7 520.2,535.5 529.1,535.5 529.1,534.1 533.5,523.7 539.1,523.7 539.1,518.5 542.1,518.5 542.1,517.1 546.8,517.1 546.8,510.8 551.9,510.8 551.9,506.2 555.9,506.2 555.9,504.3 559.6,504.3 559.6,500.2 569.8,500.2 569.8,492.0 574.6,492.0 574.6,488.4 580.6,488.4 580.6,480.5 586.8,480.5 586.8,475.3 592.6,475.3 592.6,469.6 601.4,469.6 601.4,468.1 609.5,468.1 609.5,465.3 617.4,465.3 617.4,462.9 621.3,462.9 621.3,460.0 629.3,460.0 629.3,453.1 637.5,453.1 637.5,449.2 644.3,449.2 644.3,439.3 648.3,439.3 648.3,435.6 653.8,435.6 653.8,431.7 664.3,431.7 664.3,425.7 674.1,425.7 674.1,415.2 677.9,415.2 677.9,417.4 683.6,417.4 683.6,414.0 688.1,414.0 688.1,411.4 696.7,411.4 696.7,403.8 703.6,403.8 703.6,406.9 711.0,406.9 711.0,402.8 717.0,402.8 717.0,398.9 725.0,398.9 725.0,398.0 732.7,398.0 732.7,393.5 739.3,393.5 739.3,389.9 745.2,389.9 745.2,388.8 752.5,388.8 752.5,385.3 760.0,385.3 760.0,386.0 764.1,379.8 773.4,379.8 773.4,371.3 775.9,371.3 775.9,369.6 784.5,369.6 784.5,368.0 789.7,368.0 789.7,367.9 801.7,367.9 801.7,370.8 804.9,381.7 806.2,386.5 807.9,397.1 810.3,406.6 812.0,418.7 813.5,426.7 815.0,439.3 816.5,447.8 818.8,461.2 820.6,468.7 822.7,478.4 826.2,487.7 830.9,495.7 834.7,495.7 834.7,500.6 843.4,500.6 843.4,497.7 848.6,497.7 848.6,496.3 852.3,507.0 855.4,516.7 857.7,529.3 858.6,535.7 859.4,539.5 861.7,549.2 864.5,561.8 868.1,572.8 871.2,585.6 876.4,596.7 878.8,606.1 881.9,606.1 881.9,605.0 887.2,605.0 887.2,612.7 890.8,622.6 892.4,628.6 895.4,642.1 896.9,645.2 899.4,653.2 902.9,659.7 907.3,659.7 907.3,660.9 912.1,660.9 912.1,659.4 916.2,659.4 916.2,663.4 918.4,663.4 918.4,666.4 921.0,666.4 921.0,667.8 927.0,681.1 936.3,681.1 936.3,678.3 942.4,688.1 948.2,688.1 948.2,690.7 957.3,690.7 957.3,698.5 961.2,698.5 961.2,702.1 969.1,702.1 969.1,710.4 972.5,716.7 974.8,721.9 978.3,727.7 981.1,732.9 986.3,741.6 988.6,749.8 989.9,753.9 991.7,757.2 993.2,763.7 997.0,773.7 999.1,783.4 1002.1,793.3 1004.7,799.7 1012.1,799.7 1012.1,802.5 1022.6,802.5 1022.6,803.1 1028.0,803.1 1028.0,809.4 1030.5,815.7 1041.4,815.7 1041.4,817.5 1048.4,817.5 1048.4,821.7 1054.6,821.7 1054.6,829.3 1058.1,829.3 1058.1,833.8 1063.8,833.8 1063.8,840.5 1066.2,848.8 1068.2,848.8 1068.2,849.3 1070.2,858.7 1073.6,865.3 1078.0,876.1 1080.9,883.6 1090.6,883.6 1090.6,889.1 1095.3,889.1 1095.3,888.1 1104.2,888.1 1104.2,891.5 1108.3,891.5 1108.3,888.3 1118.0,888.3 1118.0,895.0 1122.7,895.0 1122.7,898.2 1128.3,898.2 1128.3,904.9 1133.9,914.5 1137.4,926.4 1139.0,932.8 1141.4,944.3 1142.3,949.1 1144.9,959.5 1146.7,968.7 1148.5,978.8 1152.0,990.4 1154.0,996.0 1156.8,1009.8 1159.9,1015.8 1162.7,1020.5 1164.9,1024.5 1168.1,1031.2 1171.6,1039.0 1180.3,1039.0 1180.3,1035.5 1183.4,1025.5 1185.4,1025.5 1185.4,1026.5 1189.6,1015.8 1197.8,1015.8 1197.8,1016.3 1202.8,1008.2 1205.2,1008.2 1205.2,1008.7 1207.6,1002.7 1216.1,1002.7 1216.1,1009.4 1220.4,1009.4 1220.4,1015.6 1225.6,1015.6 1225.6,1023.0 1228.5,1023.0 1228.5,1022.3 1234.7,1022.3 1234.7,1022.2 1237.9,1034.2 1239.6,1040.5 1241.5,1048.5 1244.6,1057.5 1248.4,1066.8 1251.1,1080.7 1252.1,1080.7 1252.1,1081.8 1253.4,1086.9 1259.4,1086.9 1259.4,1095.0 1264.8,1105.8 1273.7,1105.8 1273.7,1111.3 1279.6,1111.3 1279.6,1117.8 1289.0,1117.8 1289.0,1123.2 1294.5,1123.2 1294.5,1128.3 1302.0,1128.3 1302.0,1136.9 1305.0,1143.0 1306.4,1145.6 1308.5,1150.9 1310.2,1156.0 1312.4,1164.7 1315.8,1175.9 1320.1,1175.9 1320.1,1179.7 1326.2,1169.4 1332.0,1169.4 1332.0,1170.1 1341.3,1170.1 1341.3,1169.9 1350.4,1169.9 1350.4,1167.4 1360.7,1167.4 1360.7,1172.5 1371.3,1172.5 1371.3,1180.2 1377.1,1189.0 1382.4,1198.1 1385.7,1203.3 1389.4,1203.3 1389.4,1203.6 1394.9,1203.6 1394.9,1197.4 1397.4,1202.8 1401.1,1213.3 1402.9,1216.6 1405.2,1221.9 1415.3,1221.9 1415.3,1224.0 1419.5,1231.7 1422.1,1231.7 1422.1,1229.1 1423.2,1232.0 1424.5,1237.7 1425.9,1240.8 1430.3,1250.7 1435.9,1250.7 1435.9,1245.5 1440.2,1245.5 1440.2,1243.9 1447.9,1243.9 1447.9,1240.4 1455.0,1240.4 1455.0,1238.5 1458.2,1238.5 1458.2,1239.6 1461.5,1239.6 1461.5,1244.0 1465.9,1244.0 1465.9,1249.8 1469.8,1249.8 1469.8,1254.1 1472.4,1259.1 1476.3,1267.1 1480.1,1274.5 1482.4,1286.3 1484.2,1293.5 1488.8,1293.5 1488.8,1298.3 1494.6,1298.3 1494.6,1304.2 1499.6,1304.2 1499.6,1301.2 1505.0,1301.2 1505.0,1302.9 1511.3,1290.5 1520.4,1290.5 1520.4,1293.3 1521.7,1297.5 1524.0,1308.0 1531.6,1308.0 1531.6,1312.7 1539.6,1312.7 1539.6,1323.0 1543.5,1335.3 1546.2,1342.3 1547.6,1346.6 1549.4,1343.0 1553.1,1333.3 1563.2,1333.3 1563.2,1334.7 1567.4,1347.0 1570.2,1352.2 1575.9,1363.0 1582.0,1363.0 1582.0,1372.1 1586.4,1379.0 1591.4,1379.0 1591.4,1381.9 1596.7,1390.7 1601.6,1390.7 1601.6,1394.9 1603.9,1400.2 1606.7,1400.2 1606.7,1404.3 1614.9,1404.3 1614.9,1414.2 1617.9,1420.8 1620.7,1426.2" fill="none" stroke="#0474C0" stroke-width="6.6" stroke-linejoin="round" stroke-linecap="butt" />
<polyline points="335.0,1420.0 335.1,1413.3 335.3,1402.5 335.5,1391.6 335.6,1383.4 335.8,1375.0 335.9,1365.4 336.1,1357.0 336.1,1347.4 336.2,1349.6 336.3,1341.2 336.5,1332.6 336.6,1326.4 336.7,1317.2 336.8,1313.3 336.9,1301.5 337.1,1292.0 337.2,1283.5 337.4,1271.7 337.4,1267.4 337.8,1257.8 338.3,1248.6 338.5,1241.4 339.0,1233.5 339.4,1224.0 339.9,1214.4 340.2,1207.5 340.6,1198.9 341.1,1189.7 341.5,1180.1 341.8,1174.5 342.0,1171.9 342.6,1158.4 342.9,1151.2 343.5,1140.4 343.7,1135.0 344.3,1125.1 344.9,1116.5 345.5,1105.7 345.7,1099.2 346.1,1094.6 346.3,1090.7 346.9,1080.2 347.3,1075.1 348.0,1062.8 348.3,1056.9 348.9,1046.9 349.5,1035.0 349.9,1029.7 350.3,1019.8 351.0,1010.7 351.5,1002.7 351.9,994.5 352.4,989.2 353.3,981.1 353.7,976.3 354.4,966.1 355.1,958.5 355.7,951.1 356.1,946.6 356.9,937.3 357.8,927.3 358.3,920.0 358.9,914.3 360.0,903.5 360.8,899.5 361.4,889.6 361.7,885.3 362.7,876.7 363.3,869.8 364.1,862.8 364.6,857.2 365.5,848.2 366.6,836.9 367.4,829.5 367.9,828.5 369.3,815.0 370.6,803.7 371.0,801.3 372.0,793.4 373.2,783.0 374.2,778.3 375.5,769.4 377.1,755.9 378.3,745.8 379.2,741.4 380.0,735.0 380.8,729.6 381.4,726.6 382.1,721.3 382.8,716.1 384.3,705.3 385.8,698.4 387.8,689.5 390.0,679.0 392.0,668.7 392.8,664.5 395.1,653.2 396.0,647.9 398.1,639.2 400.4,627.4 402.3,620.5 403.7,614.1 404.7,609.5 405.6,604.9 407.4,596.0 408.6,592.0 410.3,582.4 411.5,579.1 412.6,575.6 413.8,565.8 415.9,558.6 417.6,551.2 419.5,545.6 421.7,536.8 424.0,529.3 426.2,521.0 428.3,516.0 431.7,504.1 434.9,493.4 436.7,488.1 438.8,482.8 440.5,478.1 442.7,471.3 443.9,469.2 447.6,460.8 451.1,453.2 454.1,446.0 458.7,436.6 461.4,431.3 465.1,422.3 471.3,422.3 471.3,414.7 475.8,406.5 480.6,406.5 480.6,400.7 484.2,400.7 484.2,395.6 490.6,395.6 490.6,386.2 495.7,377.4 498.9,377.4 498.9,373.2 502.3,367.8 506.8,360.5 510.9,351.2 516.2,351.2 516.2,348.0 519.6,342.6 525.2,342.6 525.2,338.2 531.5,338.2 531.5,331.2 538.4,331.2 538.4,322.2 543.8,322.2 543.8,319.7 549.2,319.7 549.2,314.9 554.9,314.9 554.9,308.6 561.2,308.6 561.2,302.9 567.4,302.9 567.4,297.8 570.5,297.8 570.5,298.2 575.3,298.2 575.3,295.4 585.5,295.4 585.5,288.3 595.0,288.3 595.0,284.1 601.9,284.1 601.9,281.2 610.7,281.2 610.7,278.4 615.6,278.4 615.6,275.2 620.8,275.2 620.8,274.6 627.9,274.6 627.9,269.0 636.7,269.0 636.7,268.8 640.3,268.8 640.3,264.8 647.3,264.8 647.3,263.4 657.7,263.4 657.7,257.4 665.9,257.4 665.9,259.3 677.0,259.3 677.0,253.5 681.0,253.5 681.0,252.0 691.0,252.0 691.0,248.2 700.6,248.2 700.6,245.8 704.4,245.8 704.4,243.7 712.3,243.7 712.3,243.4 722.1,243.4 722.1,242.9 727.4,242.9 727.4,245.7 735.9,245.7 735.9,240.8 746.1,240.8 746.1,237.9 756.1,237.9 756.1,237.5 763.1,237.5 763.1,236.2 767.2,236.2 767.2,235.1 775.1,235.1 775.1,233.2 780.2,233.2 780.2,234.2 788.1,234.2 788.1,234.8 793.9,234.8 793.9,232.3 800.1,232.3 800.1,233.1 803.9,240.8 805.3,251.0 807.0,260.9 808.0,263.2 808.6,272.1 810.4,280.4 811.6,288.4 813.3,298.6 815.5,306.1 816.6,312.1 819.4,322.2 821.1,326.7 823.0,330.7 824.7,337.7 826.7,345.6 828.0,351.0 829.8,358.1 831.3,363.8 832.4,367.1 833.7,372.6 835.9,383.4 837.4,389.5 838.9,394.2 841.7,398.5 843.9,405.6 848.7,414.0 852.9,425.0 854.9,429.3 857.4,434.3 860.4,438.8 863.6,447.7 866.4,452.6 869.6,460.0 873.6,468.2 876.1,473.9 880.2,482.2 882.8,482.2 882.8,485.1 886.9,485.1 886.9,490.5 890.4,501.7 896.2,501.7 896.2,503.8 901.7,514.5 906.8,525.8 909.9,525.8 909.9,529.5 913.3,538.4 915.2,541.8 918.8,553.2 922.6,560.5 927.1,560.5 927.1,566.8 931.1,566.8 931.1,569.5 937.2,580.3 943.0,580.3 943.0,587.5 948.9,587.5 948.9,593.8 952.1,598.8 955.1,603.8 958.0,610.4 960.8,614.9 962.8,614.9 962.8,617.0 966.6,617.0 966.6,618.4 972.9,618.4 972.9,624.7 977.7,624.7 977.7,627.2 981.9,638.6 985.0,643.6 987.9,643.6 987.9,647.9 994.3,647.9 994.3,657.3 996.6,661.3 999.7,661.3 999.7,665.0 1004.6,674.6 1009.2,674.6 1009.2,680.0 1018.0,680.0 1018.0,686.5 1025.9,686.5 1025.9,695.2 1031.0,695.2 1031.0,694.6 1039.3,694.6 1039.3,701.5 1047.8,701.5 1047.8,707.8 1053.8,707.8 1053.8,713.1 1057.6,713.1 1057.6,715.4 1060.0,720.1 1064.6,730.4 1069.8,739.0 1075.0,739.0 1075.0,744.3 1080.8,754.2 1087.3,754.2 1087.3,761.8 1090.8,761.8 1090.8,765.8 1093.6,771.4 1098.6,771.4 1098.6,778.0 1106.6,778.0 1106.6,785.2 1113.0,785.2 1113.0,789.7 1116.3,789.7 1116.3,792.5 1118.4,798.2 1121.7,798.2 1121.7,802.1 1127.6,813.4 1131.3,813.4 1131.3,811.6 1135.7,819.4 1138.4,824.1 1144.2,824.1 1144.2,827.6 1147.1,827.6 1147.1,831.8 1153.5,831.8 1153.5,837.8 1157.8,845.1 1161.7,845.1 1161.7,850.5 1164.9,858.0 1168.5,858.0 1168.5,858.4 1174.8,868.8 1182.2,868.8 1182.2,875.5 1188.6,875.5 1188.6,883.4 1192.2,883.4 1192.2,888.0 1196.5,888.0 1196.5,889.5 1202.9,889.5 1202.9,890.9 1208.9,900.7 1215.6,900.7 1215.6,910.2 1219.2,910.2 1219.2,914.0 1224.9,914.0 1224.9,921.0 1230.0,921.0 1230.0,924.2 1236.0,924.2 1236.0,929.5 1240.4,929.5 1240.4,933.4 1245.9,933.4 1245.9,940.9 1251.7,940.9 1251.7,948.5 1259.5,948.5 1259.5,957.0 1264.8,957.0 1264.8,959.4 1270.0,959.4 1270.0,965.9 1277.5,965.9 1277.5,968.9 1281.5,968.9 1281.5,972.0 1290.3,972.0 1290.3,978.2 1297.8,978.2 1297.8,986.3 1301.9,986.3 1301.9,988.9 1307.5,988.9 1307.5,992.6 1313.9,992.6 1313.9,996.4 1320.4,1006.3 1325.6,1006.3 1325.6,1012.1 1329.1,1012.1 1329.1,1017.0 1336.4,1017.0 1336.4,1026.4 1343.1,1026.4 1343.1,1033.5 1349.4,1043.9 1355.7,1043.9 1355.7,1044.2 1362.6,1044.2 1362.6,1050.3 1369.1,1050.3 1369.1,1051.6 1378.2,1051.6 1378.2,1058.8 1384.1,1058.8 1384.1,1063.5 1393.2,1063.5 1393.2,1068.6 1397.3,1068.6 1397.3,1073.9 1400.3,1073.9 1400.3,1074.5 1404.7,1074.5 1404.7,1079.9 1407.9,1087.0 1411.3,1087.0 1411.3,1091.5 1413.6,1096.3 1416.1,1096.3 1416.1,1097.3 1419.7,1097.3 1419.7,1101.7 1421.9,1108.3 1425.9,1108.3 1425.9,1109.6 1433.2,1109.6 1433.2,1116.0 1438.0,1116.0 1438.0,1118.6 1443.0,1118.6 1443.0,1122.1 1447.7,1122.1 1447.7,1126.2 1451.8,1126.2 1451.8,1129.4 1457.5,1129.4 1457.5,1137.8 1464.5,1137.8 1464.5,1144.4 1467.3,1144.4 1467.3,1146.7 1472.9,1155.3 1479.8,1155.3 1479.8,1153.5 1490.3,1153.5 1490.3,1156.3 1496.9,1156.3 1496.9,1166.1 1500.0,1173.8 1503.1,1173.8 1503.1,1177.9 1511.2,1177.9 1511.2,1185.1 1520.6,1185.1 1520.6,1190.1 1528.5,1190.1 1528.5,1186.5 1530.5,1180.9 1535.6,1180.9 1535.6,1182.5 1542.1,1182.5 1542.1,1183.0 1545.6,1183.0 1545.6,1185.2 1554.9,1185.2 1554.9,1191.5 1559.2,1198.6 1566.4,1198.6 1566.4,1205.9 1569.7,1205.9 1569.7,1202.8 1576.3,1202.8 1576.3,1205.2 1578.3,1210.9 1582.8,1210.9 1582.8,1215.6 1587.2,1215.6 1587.2,1213.2 1593.4,1213.2 1593.4,1210.6 1600.7,1210.6 1600.7,1210.9 1609.3,1210.9 1609.3,1217.1 1610.8,1220.6 1613.5,1227.4 1615.2,1230.7 1621.4,1230.7 1621.4,1239.4 1624.8,1239.4 1624.8,1241.4 1628.5,1241.4 1628.5,1240.9 1636.0,1240.9 1636.0,1233.0 1639.9,1233.0 1639.9,1237.7 1650.7,1237.7 1650.7,1233.2 1653.3,1237.8 1657.9,1249.5 1660.7,1249.5 1660.7,1247.0 1663.8,1247.0 1663.8,1244.7 1670.5,1244.7 1670.5,1243.6 1676.3,1243.6 1676.3,1246.6 1684.8,1246.6 1684.8,1249.6 1689.9,1249.6 1689.9,1253.0 1693.6,1253.0 1693.6,1257.6 1696.0,1257.6 1696.0,1260.0 1700.2,1260.0 1700.2,1262.0 1703.8,1262.0 1703.8,1264.4 1709.4,1264.4 1709.4,1265.8 1715.3,1275.2 1721.1,1275.2 1721.1,1277.8 1726.1,1277.8 1726.1,1282.1 1732.8,1282.1 1732.8,1280.7 1741.8,1280.7 1741.8,1280.7 1748.7,1280.7 1748.7,1286.5 1750.1,1292.5 1752.9,1299.5 1755.2,1304.0 1762.4,1304.0 1762.4,1294.1 1769.8,1294.1 1769.8,1288.9 1778.0,1288.9 1778.0,1290.6 1786.3,1290.6 1786.3,1295.1 1793.3,1295.1 1793.3,1300.0 1795.0,1304.3 1797.6,1310.7 1799.1,1315.4 1801.1,1315.4 1801.1,1318.2 1810.2,1318.2 1810.2,1317.6 1815.0,1317.6 1815.0,1315.1 1818.2,1315.1 1818.2,1319.2 1822.0,1327.1 1827.5,1327.1 1827.5,1330.1 1830.9,1330.1 1830.9,1332.5 1838.9,1332.5 1838.9,1337.6 1843.7,1337.6 1843.7,1343.4 1844.7,1345.5 1846.8,1355.0 1848.6,1359.8 1851.6,1369.7 1853.9,1373.9 1856.2,1379.2 1859.2,1387.5 1865.0,1387.5 1865.0,1391.3 1869.3,1391.3 1869.3,1390.9 1871.0,1390.9 1871.0,1389.0" fill="none" stroke="#FFC000" stroke-width="6.6" stroke-linejoin="round" stroke-linecap="butt" />
<polyline points="331.5,1418.0 331.5,1415.4 331.6,1408.8 331.6,1403.4 331.7,1402.6 331.7,1394.8 331.8,1390.4 331.8,1385.1 331.9,1379.2 331.9,1378.0 332.0,1373.4 332.0,1367.5 332.1,1361.5 332.1,1357.7 332.2,1348.6 332.3,1344.6 332.3,1335.7 332.4,1333.7 332.4,1330.1 332.5,1321.8 332.6,1318.0 332.6,1313.8 332.7,1305.6 332.8,1306.8 332.8,1291.6 332.9,1289.9 332.9,1287.3 333.0,1283.9 333.1,1273.1 333.1,1271.8 333.2,1264.4 333.2,1259.7 333.3,1252.2 333.4,1248.3 333.4,1242.0 333.5,1237.4 333.5,1225.3 333.6,1231.8 333.6,1222.5 333.7,1215.6 333.8,1214.8 333.8,1207.3 333.9,1200.4 333.9,1199.7 334.0,1195.4 334.0,1188.8 334.1,1182.6 334.2,1173.5 334.2,1179.2 334.2,1171.3 334.3,1164.5 334.4,1160.2 334.4,1156.7 334.5,1151.4 334.6,1146.4 334.8,1134.9 334.9,1131.2 335.0,1128.1 335.0,1127.5 335.1,1124.5 335.2,1117.6 335.3,1121.3 335.4,1106.3 335.5,1105.6 335.7,1095.5 335.8,1090.5 336.0,1086.5 336.1,1078.2 336.2,1071.8 336.4,1065.8 336.5,1060.9 336.6,1058.5 336.7,1047.9 336.9,1043.7 337.0,1035.7 337.2,1030.2 337.2,1028.7 337.3,1029.8 337.3,1020.6 337.4,1013.2 337.5,1006.6 337.5,1005.2 337.5,1003.4 337.6,992.2 337.7,991.0 337.7,989.4 337.8,979.2 337.9,974.7 337.9,971.8 338.0,966.3 338.0,962.1 338.0,960.7 338.1,954.6 338.2,949.6 338.2,944.6 338.3,937.3 338.4,931.0 338.4,929.1 338.5,925.1 338.5,917.3 338.6,909.5 338.7,905.2 338.8,902.7 339.0,894.9 339.1,889.1 339.3,885.9 339.5,880.8 339.8,872.2 339.9,866.5 340.0,871.1 340.2,858.5 340.5,852.0 340.7,846.7 340.8,839.0 340.9,840.5 341.2,829.3 341.8,824.9 342.3,818.4 342.7,812.8 343.3,804.7 343.7,792.8 344.3,790.8 344.5,788.4 344.7,782.7 345.2,775.6 345.6,769.4 346.0,766.8 346.2,762.5 346.5,755.1 346.9,751.1 347.1,747.1 347.3,745.9 347.7,740.5 348.2,731.5 348.6,725.5 348.9,722.2 349.3,716.0 349.8,713.2 350.4,706.9 351.2,696.3 351.5,694.6 352.2,687.6 352.9,680.6 353.2,675.8 353.5,675.2 353.9,668.3 354.3,665.2 354.6,664.2 354.9,659.2 355.5,655.7 356.0,651.3 356.3,646.5 357.3,638.8 358.3,630.8 358.8,627.9 359.8,624.0 360.7,616.9 361.5,610.1 361.9,610.1 361.9,609.9 362.8,601.6 363.6,593.5 364.5,589.6 365.4,585.1 365.8,577.0 366.7,567.8 367.1,563.4 367.6,560.8 368.3,551.5 369.0,552.6 369.6,544.7 370.7,532.2 372.4,532.2 372.4,530.3 374.2,526.5 375.8,517.3 377.0,517.3 377.0,515.7 377.7,511.7 379.2,505.5 381.8,500.4 383.0,494.9 385.9,489.8 386.9,486.4 388.5,486.4 388.5,487.0 390.9,476.8 393.3,471.9 396.4,466.5 398.9,461.5 401.3,461.5 401.3,462.8 403.4,456.7 406.6,456.7 406.6,457.4 407.7,450.9 409.1,448.7 411.9,443.9 414.0,437.9 415.1,435.9 417.2,432.0 422.2,432.0 422.2,425.1 425.6,425.1 425.6,420.5 428.2,420.5 428.2,422.0 430.3,422.0 430.3,419.2 433.7,419.2 433.7,419.1 436.2,409.4 439.3,409.4 439.3,406.7 441.6,406.7 441.6,409.0 446.2,409.0 446.2,405.3 451.6,405.3 451.6,407.1 455.4,396.7 459.4,396.7 459.4,391.1 462.2,391.1 462.2,388.4 467.7,388.4 467.7,385.0 470.9,385.0 470.9,381.7 477.5,381.7 477.5,379.1 479.7,379.1 479.7,378.6 485.1,378.6 485.1,374.1 491.4,374.1 491.4,370.4 496.3,370.4 496.3,374.5 499.5,367.7 502.5,367.7 502.5,366.3 509.4,366.3 509.4,359.5 516.6,359.5 516.6,359.2 520.1,359.2 520.1,357.3 524.5,357.3 524.5,357.5 530.9,357.5 530.9,355.8 537.8,355.8 537.8,351.9 540.3,351.9 540.3,353.9 545.6,353.9 545.6,351.4 549.3,351.4 549.3,352.8 552.2,352.8 552.2,350.0 558.3,350.0 558.3,352.8 563.3,352.8 563.3,350.9 566.8,350.9 566.8,351.0 573.2,351.0 573.2,348.7 577.3,348.7 577.3,346.9 581.1,346.9 581.1,343.2 585.1,343.2 585.1,348.4 588.6,348.4 588.6,348.2 595.5,348.2 595.5,348.3 599.7,348.3 599.7,345.6 607.1,345.6 607.1,345.5 613.2,345.5 613.2,348.1 618.5,348.1 618.5,348.7 625.8,348.7 625.8,342.2 630.2,342.2 630.2,347.7 632.8,347.7 632.8,348.8 638.7,348.8 638.7,346.1 641.5,346.1 641.5,349.1 648.9,349.1 648.9,348.9 656.5,348.9 656.5,349.8 661.0,349.8 661.0,348.0 663.9,348.0 663.9,345.8 671.5,345.8 671.5,348.7 675.3,348.7 675.3,346.5 682.9,346.5 682.9,349.4 687.9,349.4 687.9,347.6 695.0,347.6 695.0,348.0 702.1,348.0 702.1,349.4 705.4,349.4 705.4,349.3 709.6,349.3 709.6,348.6 714.3,348.6 714.3,346.7 717.7,346.7 717.7,348.7 725.1,348.7 725.1,345.5 728.7,345.5 728.7,347.8 732.3,347.8 732.3,343.0 735.7,343.0 735.7,346.7 738.9,346.7 738.9,345.8 745.7,345.8 745.7,346.7 749.2,346.7 749.2,346.3 754.8,346.3 754.8,346.1 757.8,346.1 757.8,347.3 764.6,347.3 764.6,346.4 771.2,346.4 771.2,347.7 778.7,347.7 778.7,346.1 781.4,351.6 787.4,351.6 787.4,348.4 793.7,348.4 793.7,354.1 798.0,347.5 804.1,347.5 804.1,349.9 806.7,343.4 809.2,343.4 809.2,340.9 811.5,340.9 811.5,343.1 813.4,350.5 814.6,353.5 815.4,356.9 817.0,371.3 817.8,367.3 818.8,375.3 819.8,375.3 819.8,375.9 820.7,384.0 821.8,388.8 822.4,391.8 823.4,393.8 824.6,399.9 826.1,409.1 827.1,414.0 827.9,418.2 828.9,420.8 829.8,425.5 830.6,428.2 831.7,432.2 832.8,432.2 832.8,432.1 834.8,439.8 836.5,451.1 838.4,451.1 838.4,453.0 839.7,461.0 840.6,461.0 840.6,462.3 842.0,468.7 843.6,474.2 845.9,483.7 848.5,483.7 848.5,482.3 853.1,491.1 858.4,491.1 858.4,494.1 859.8,499.8 860.6,504.0 861.0,508.9 861.9,511.5 862.2,513.4 863.2,522.8 864.1,529.2 867.1,535.1 870.3,540.6 871.5,547.9 874.7,556.8 877.3,556.8 877.3,555.5 880.4,561.7 883.3,568.3 885.4,574.2 889.0,574.2 889.0,577.5 890.8,577.5 890.8,578.5 894.8,589.9 897.9,597.1 901.4,597.1 901.4,599.5 902.8,606.5 904.2,609.8 905.1,615.3 906.7,619.8 908.0,626.8 909.1,631.1 912.7,631.1 912.7,635.2 915.8,641.0 918.3,641.0 918.3,644.1 920.4,649.1 921.9,652.8 923.8,659.4 925.7,666.0 927.8,666.0 927.8,669.1 930.0,669.1 930.0,671.9 932.8,678.5 934.4,678.5 934.4,679.3 936.2,679.3 936.2,681.1 938.4,687.1 941.7,687.1 941.7,689.7 943.5,695.9 947.0,695.9 947.0,701.0 949.3,701.0 949.3,701.6 953.5,701.6 953.5,706.3 955.2,710.0 957.7,720.7 960.1,725.5 962.4,733.3 964.4,738.8 966.4,738.8 966.4,739.3 971.1,747.9 973.3,747.9 973.3,748.7 976.0,756.0 977.7,760.1 978.8,763.3 980.5,763.3 980.5,765.0 982.0,768.8 985.5,777.0 988.3,777.0 988.3,775.5 993.6,775.5 993.6,779.1 995.3,781.7 997.1,786.6 1000.8,786.6 1000.8,790.2 1005.9,790.2 1005.9,792.6 1011.4,792.6 1011.4,797.2 1014.4,797.2 1014.4,799.1 1017.4,799.1 1017.4,802.5 1019.8,810.6 1020.8,812.3 1022.1,812.3 1022.1,813.3 1024.3,818.5 1028.5,818.5 1028.5,820.8 1032.8,820.8 1032.8,825.8 1036.7,825.8 1036.7,830.8 1039.8,830.8 1039.8,834.4 1044.0,843.4 1046.6,847.8 1048.9,842.3 1052.4,848.6 1057.0,848.6 1057.0,852.2 1060.0,862.8 1061.7,867.3 1063.8,867.3 1063.8,867.6 1064.7,871.0 1066.5,879.7 1067.5,885.0 1068.7,887.5 1070.1,896.0 1071.5,896.0 1071.5,896.8 1074.2,896.8 1074.2,895.2 1079.1,895.2 1079.1,898.0 1082.7,898.0 1082.7,901.1 1085.0,901.1 1085.0,899.9 1088.5,906.6 1092.1,906.6 1092.1,909.5 1095.6,916.1 1097.8,916.1 1097.8,915.9 1102.0,915.9 1102.0,919.2 1106.3,919.2 1106.3,917.4 1108.0,917.4 1108.0,919.4 1111.4,925.5 1112.9,925.5 1112.9,925.3 1114.6,925.3 1114.6,926.8 1116.9,933.0 1121.1,933.0 1121.1,937.7 1123.9,937.7 1123.9,941.2 1128.0,941.2 1128.0,945.6 1133.7,945.6 1133.7,948.8 1137.0,948.8 1137.0,950.7 1139.8,950.7 1139.8,953.2 1141.8,953.2 1141.8,955.2 1144.4,955.2 1144.4,958.3 1147.6,965.4 1150.1,970.7 1152.8,979.4 1154.1,983.0 1156.1,988.9 1159.2,988.9 1159.2,990.2 1163.5,990.2 1163.5,993.3 1165.5,993.3 1165.5,994.0 1170.2,994.0 1170.2,997.0 1174.3,1007.0 1178.3,1007.0 1178.3,1009.6 1182.0,1009.6 1182.0,1013.9 1184.8,1019.4 1189.1,1027.0 1192.3,1027.0 1192.3,1028.1 1197.0,1028.1 1197.0,1034.4 1200.5,1034.4 1200.5,1034.9 1203.4,1034.9 1203.4,1035.5 1206.9,1041.1 1210.2,1041.1 1210.2,1042.5 1212.8,1042.5 1212.8,1043.0 1216.8,1043.0 1216.8,1042.5 1221.4,1042.5 1221.4,1042.5 1224.6,1042.5 1224.6,1047.2 1226.5,1051.4 1230.3,1051.4 1230.3,1054.5 1232.9,1054.5 1232.9,1058.0 1235.4,1063.6 1238.5,1069.0 1239.8,1069.0 1239.8,1070.9 1243.2,1070.9 1243.2,1074.5 1248.8,1074.5 1248.8,1079.2 1251.6,1088.4 1257.1,1088.4 1257.1,1085.7 1260.3,1085.7 1260.3,1082.9 1264.3,1082.9 1264.3,1087.9 1267.3,1087.9 1267.3,1088.8 1269.5,1093.1 1271.9,1099.7 1274.1,1099.7 1274.1,1097.0 1276.2,1103.3 1278.0,1110.4 1280.1,1110.4 1280.1,1111.1 1281.6,1116.8 1285.0,1116.8 1285.0,1118.4 1291.5,1118.4 1291.5,1121.5 1296.4,1121.5 1296.4,1120.9 1300.7,1120.9 1300.7,1118.9 1307.0,1118.9 1307.0,1123.2 1310.2,1123.2 1310.2,1127.5 1313.0,1127.5 1313.0,1129.8 1315.3,1133.3 1321.8,1133.3 1321.8,1139.0 1324.5,1139.0 1324.5,1137.7 1331.1,1137.7 1331.1,1142.9 1334.7,1142.9 1334.7,1146.4 1340.8,1146.4 1340.8,1149.3 1343.0,1149.3 1343.0,1151.0 1348.1,1151.0 1348.1,1153.0 1350.7,1159.3 1353.6,1164.3 1355.0,1164.3 1355.0,1163.6 1357.2,1170.3 1358.6,1175.2 1359.9,1180.6 1361.5,1183.1 1365.4,1183.1 1365.4,1188.2 1369.1,1188.2 1369.1,1189.9 1371.7,1194.7 1374.9,1194.7 1374.9,1193.6 1378.7,1201.4 1380.7,1201.4 1380.7,1204.2 1382.9,1211.1 1385.8,1216.9 1391.9,1216.9 1391.9,1217.9 1396.5,1217.9 1396.5,1221.0 1400.1,1228.4 1402.0,1228.4 1402.0,1229.4 1405.9,1229.4 1405.9,1233.1 1408.1,1237.5 1412.8,1237.5 1412.8,1243.3 1417.3,1243.3 1417.3,1250.0 1421.7,1250.0 1421.7,1252.8 1425.2,1252.8 1425.2,1253.5 1427.9,1253.5 1427.9,1256.9 1432.9,1256.9 1432.9,1255.1 1436.4,1255.1 1436.4,1256.5 1440.7,1256.5 1440.7,1252.1 1443.9,1252.1 1443.9,1252.1 1446.7,1252.1 1446.7,1252.5 1449.9,1252.5 1449.9,1256.3 1452.8,1263.1 1455.3,1270.5 1459.4,1270.5 1459.4,1274.0 1465.5,1274.0 1465.5,1274.1 1468.3,1282.0 1471.1,1286.3 1472.4,1286.3 1472.4,1288.0 1473.7,1290.6 1476.7,1296.8 1479.2,1300.7 1481.3,1307.9 1485.1,1307.9 1485.1,1309.9 1487.9,1309.9 1487.9,1312.4 1492.2,1312.4 1492.2,1314.6 1499.7,1314.6 1499.7,1318.5 1504.5,1318.5 1504.5,1316.9 1510.1,1316.9 1510.1,1319.4 1512.9,1319.4 1512.9,1323.6 1516.2,1330.7 1519.6,1330.7 1519.6,1334.8 1522.1,1345.1 1524.7,1345.1 1524.7,1345.8 1529.3,1345.8 1529.3,1350.0 1535.2,1350.0 1535.2,1351.2 1539.0,1351.2 1539.0,1355.6 1542.7,1362.4 1544.3,1366.2 1546.2,1371.3 1548.6,1377.2 1550.8,1381.2 1553.4,1373.2 1554.4,1373.2 1554.4,1372.2 1555.5,1367.5 1556.8,1364.2 1559.1,1372.9 1561.3,1377.1 1562.4,1379.2 1563.2,1383.6 1564.4,1393.2 1566.5,1393.2 1566.5,1393.0 1568.9,1393.0 1568.9,1390.0 1571.1,1381.3 1573.8,1374.3 1576.3,1369.0 1577.6,1369.0 1577.6,1370.2 1579.3,1373.5 1582.9,1379.5 1584.4,1386.2 1585.8,1396.8 1586.9,1407.2 1588.3,1407.2 1588.3,1406.4 1588.8,1411.4 1589.8,1411.4 1589.8,1412.8 1590.4,1417.3 1592.0,1423.9 1592.5,1426.2" fill="none" stroke="#FF0000" stroke-width="6.6" stroke-linejoin="round" stroke-linecap="butt" />
<rect x="305.5" y="1418.5" width="514.5" height="10.5" fill="#00FA9A"/>
<text x="229" y="1448.7" font-size="86" text-anchor="end">0</text>
<text x="229" y="1253.2" font-size="86" text-anchor="end">2</text>
<text x="229" y="1056.2" font-size="86" text-anchor="end">4</text>
<text x="229" y="859.2" font-size="86" text-anchor="end">6</text>
<text x="229" y="661.2" font-size="86" text-anchor="end">8</text>
<text x="231.5" y="465.2" font-size="86" text-anchor="end">10</text>
<text x="231.5" y="268.2" font-size="86" text-anchor="end">12</text>
<text x="231.5" y="72.7" font-size="86" text-anchor="end">14</text>
<text x="308.9" y="1571.8" font-size="86" text-anchor="middle">0</text>
<text x="622.8" y="1571.8" font-size="86" text-anchor="middle" textLength="124.4" lengthAdjust="spacingAndGlyphs">200</text>
<text x="935.7" y="1571.8" font-size="86" text-anchor="middle" textLength="124.4" lengthAdjust="spacingAndGlyphs">400</text>
<text x="1245.4" y="1571.8" font-size="86" text-anchor="middle" textLength="124.0" lengthAdjust="spacingAndGlyphs">600</text>
<text x="1558.2" y="1571.8" font-size="86" text-anchor="middle" textLength="124.4" lengthAdjust="spacingAndGlyphs">800</text>
<text x="1872.6" y="1571.8" font-size="86" text-anchor="middle" textLength="164.5" lengthAdjust="spacingAndGlyphs">1000</text>
<text x="979" y="1671.3" font-size="88">Time (s)</text>
<text transform="translate(71.7,1148) rotate(-90)" font-size="88"><tspan x="-5.5" y="0" font-size="88">S</tspan><tspan x="58.1" y="0" font-size="88">=</tspan><tspan x="127.6" y="0" font-size="88">(</tspan><tspan x="152.3" y="0" font-size="88">R</tspan><tspan x="209.6" y="1" font-size="56">air</tspan><tspan x="268.6" y="0" font-size="88">–</tspan><tspan x="312.6" y="0" font-size="88">R</tspan><tspan x="368.3" y="1" font-size="56">gas</tspan><tspan x="443.7" y="0" font-size="88">)</tspan><tspan x="471.8" y="0" font-size="88">/</tspan><tspan x="497.2" y="0" font-size="88">R</tspan><tspan x="551.8" y="1" font-size="56">air</tspan><tspan x="633.5" y="0" font-size="88">(</tspan><tspan x="659.8" y="0" font-size="88">%</tspan><tspan x="730.1" y="0" font-size="88">)</tspan></text>
<rect x="336.2" y="86.2" width="182.4" height="17.9" fill="#00FFFF"/>
<text x="533.5" y="121.2" font-size="78">:</text>
<text x="573.4" y="121.2" font-size="78" textLength="564.1" lengthAdjust="spacingAndGlyphs">Hollow PPy NTs</text>
<rect x="336.2" y="174.5" width="182.4" height="17.0" fill="#000000"/>
<text x="532.0" y="207.7" font-size="78">:</text>
<text x="567.1" y="207.7" font-size="78" textLength="442.4" lengthAdjust="spacingAndGlyphs">P-1 (0.3 wt%)</text>
<rect x="1180.9" y="96.1" width="179.1" height="17.7" fill="#A5652E"/>
<text x="1374.5" y="117.7" font-size="78">:</text>
<text x="1412.7" y="117.7" font-size="78" textLength="439.5" lengthAdjust="spacingAndGlyphs">P-2 (1.5 wt%)</text>
<rect x="1188.8" y="194" width="181.9" height="17.4" fill="#D9D9D9"/>
<text x="1382.7" y="213.9" font-size="78">:</text>
<text x="1422.5" y="213.9" font-size="78" textLength="382.2" lengthAdjust="spacingAndGlyphs">P-3 (3 wt%)</text>
<rect x="1184.5" y="296" width="179.0" height="17.7" fill="#00B0F0"/>
<text x="1382.7" y="313" font-size="78">:</text>
<text x="1422.5" y="313" font-size="78" textLength="382.0" lengthAdjust="spacingAndGlyphs">P-4 (6 wt%)</text>
<rect x="1176.9" y="404" width="177.6" height="17.0" fill="#6CCB3E"/>
<text x="1382.7" y="422.8" font-size="78">:</text>
<text x="1422.5" y="422.8" font-size="78" textLength="382.0" lengthAdjust="spacingAndGlyphs">P-5 (9 wt%)</text>
<rect x="1178.7" y="516.4" width="179.4" height="17.3" fill="#0070C0"/>
<text x="1388.0" y="531.9" font-size="78">:</text>
<text x="1420.7" y="531.9" font-size="78" textLength="421.8" lengthAdjust="spacingAndGlyphs">P-6 (12 wt%)</text>
<rect x="1182.7" y="610" width="182.6" height="17.3" fill="#FFC000"/>
<text x="1388.0" y="626.2" font-size="78">:</text>
<text x="1423.6" y="626.2" font-size="78" textLength="419.9" lengthAdjust="spacingAndGlyphs">P-7 (18 wt%)</text>
<rect x="1190.6" y="712" width="181.9" height="18.0" fill="#FF0000"/>
<text x="1393.6" y="733.6" font-size="78">:</text>
<text x="1427.9" y="733.6" font-size="78" textLength="420.0" lengthAdjust="spacingAndGlyphs">P-8 (25 wt%)</text>
</svg></body></html>
